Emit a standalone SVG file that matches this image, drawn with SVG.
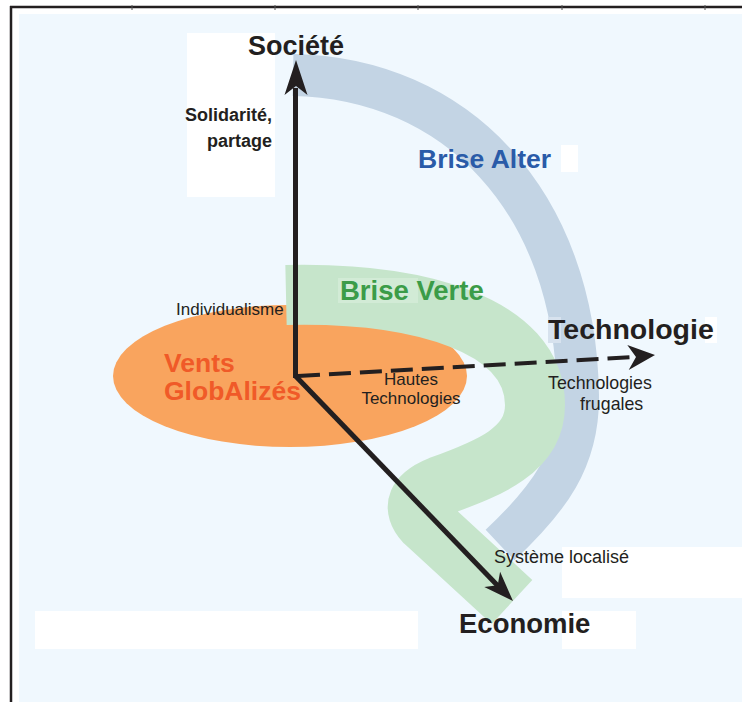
<svg xmlns="http://www.w3.org/2000/svg" width="742" height="702" viewBox="0 0 742 702">
  <style>
    text { font-family: "Liberation Sans", Arial, Helvetica, sans-serif; fill: #231f20; }
    .axis { font-weight: bold; font-size: 27px; }
    .lbl { font-size: 17px; }
    .blbl { font-weight: bold; font-size: 18px; }
    .shaft { stroke: #231f20; stroke-width: 5; fill: none; }
    .dash { stroke: #231f20; stroke-width: 4; fill: none; stroke-dasharray: 22 9; }
    .head { fill: #231f20; }
    .blank { fill: #ffffff; }
  </style>

  <g id="background">
    <rect x="0" y="0" width="742" height="702" fill="#ffffff"/>
    <rect x="19" y="14" width="723" height="688" fill="#f0f8fe"/>
    <line x1="10" y1="7" x2="742" y2="7" stroke="#231f20" stroke-width="2.5"/>
    <line x1="11" y1="6" x2="11" y2="702" stroke="#231f20" stroke-width="2.5"/>
    <g stroke="#555" stroke-width="1">
      <line x1="132" y1="5" x2="132" y2="10"/>
      <line x1="275" y1="5" x2="275" y2="10"/>
      <line x1="418" y1="5" x2="418" y2="10"/>
      <line x1="562" y1="5" x2="562" y2="10"/>
      <line x1="705" y1="5" x2="705" y2="10"/>
    </g>
    <rect class="blank" x="187" y="33" width="88" height="164"/>
    <rect class="blank" x="561" y="145" width="17" height="27"/>
    <rect class="blank" x="35" y="611" width="383" height="38"/>
    <rect class="blank" x="562" y="547" width="180" height="51"/>
    <rect class="blank" x="562" y="611" width="74" height="38"/>
  </g>

  <g id="brise-alter">
    <path d="M293,75 C455,78 575,200 578,395 C579,460 548,500 500,545" fill="none" stroke="#c3d4e4" stroke-width="42"/>
    <rect x="548" y="317" width="13" height="26" fill="#d7e2ee"/>
    <rect class="blank" x="705" y="317" width="12" height="26"/>
    <text x="418" y="168" style="fill:#2a5ba8; font-weight:bold; font-size:26.5px">Brise Alter</text>
  </g>

  <g id="vents-globalizes">
    <ellipse cx="290" cy="376" rx="177" ry="71" fill="#f9a45e"/>
  </g>

  <g id="brise-verte">
    <path d="M286,295 C420,292 535,325 535,405 C535,450 490,468 440,486 Q405,500 425,522 L512,602" fill="none" stroke="#c6e5cb" stroke-width="60" stroke-linejoin="round"/>
    <rect x="338" y="278" width="80" height="25" fill="#d2ebd6"/>
    <text x="340" y="300" style="fill:#3b9c48; font-weight:bold; font-size:27.5px">Brise Verte</text>
  </g>

  <g id="vents-globalizes-label">
    <text style="fill:#f05a28; font-weight:bold; font-size:26.5px"><tspan x="164" y="372">Vents</tspan><tspan x="164" y="400">GlobAlizés</tspan></text>
  </g>

  <g id="connectors">
    <line class="shaft" x1="295.5" y1="378" x2="295.5" y2="88"/>
    <polygon class="head" points="296,60 307.5,95 296,86 284.5,95"/>
    <line class="dash" x1="298" y1="376" x2="636" y2="357"/>
    <polygon class="head" points="655,355 627.3,345 636,357 628.7,370"/>
    <line class="shaft" x1="295.5" y1="376" x2="498" y2="586"/>
    <polygon class="head" points="513,601 484.3,587 497.7,585.2 500.1,571.8"/>
  </g>

  <g id="societe">
    <text class="axis" x="248" y="55">Société</text>
    <text class="blbl" text-anchor="end"><tspan x="272" y="121">Solidarité,</tspan><tspan x="272" y="147">partage</tspan></text>
  </g>

  <g id="technologie">
    <text class="axis" x="548" y="339" style="font-size:28.5px">Technologie</text>
    <text class="lbl" style="font-size:17.8px"><tspan x="548" y="388.5">Technologies</tspan><tspan x="580" y="409.5">frugales</tspan></text>
  </g>

  <g id="economie">
    <text class="axis" x="459" y="633" style="font-size:27.5px">Economie</text>
    <text class="lbl" x="494" y="563" style="font-size:18px">Système localisé</text>
  </g>

  <g id="labels">
    <text class="lbl" x="176" y="315">Individualisme</text>
    <text class="lbl" text-anchor="middle"><tspan x="411" y="385">Hautes</tspan><tspan x="411" y="404">Technologies</tspan></text>
  </g>
</svg>
